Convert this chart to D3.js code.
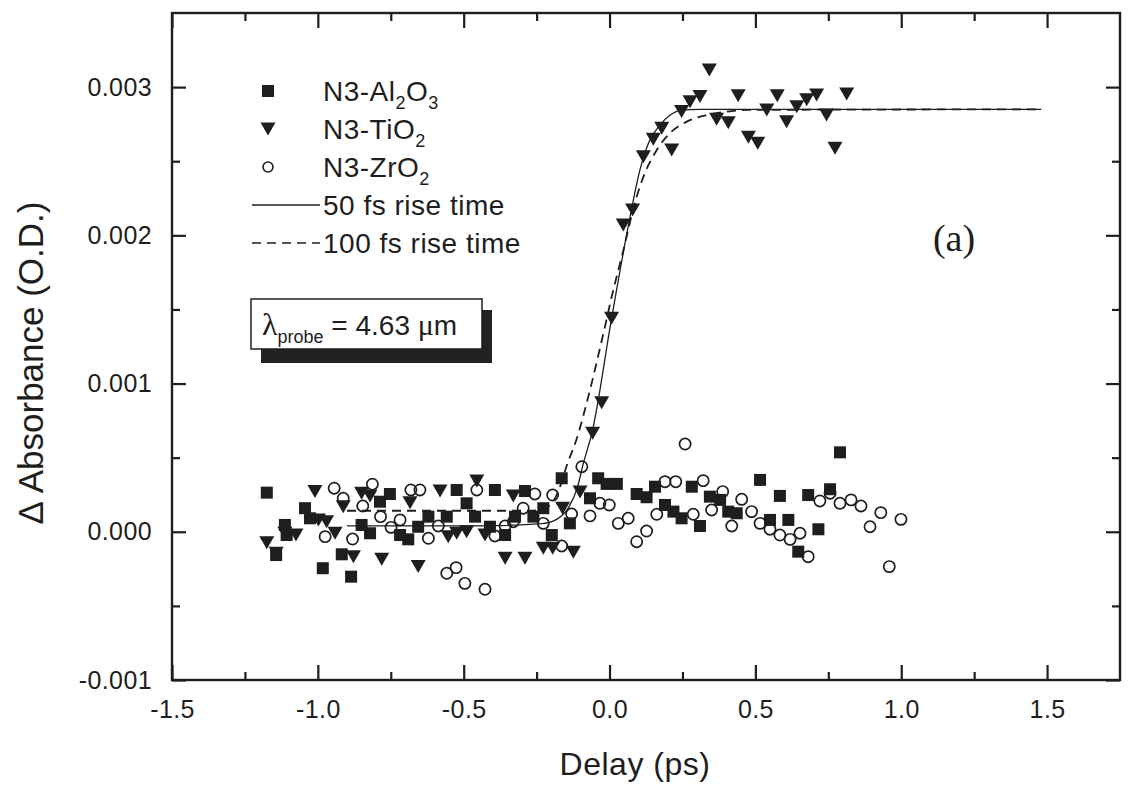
<!DOCTYPE html>
<html><head><meta charset="utf-8">
<script src="https://cdn.jsdelivr.net/npm/d3@7"></script>
<style>body{margin:0;background:#fff}svg{display:block}</style>
</head><body><svg id="c" width="1128" height="790"></svg>
<script>
// ---------- data ----------
const xTicks = [-1.5, -1.0, -0.5, 0.0, 0.5, 1.0, 1.5];
const xTickLabels = ["-1.5", "-1.0", "-0.5", "0.0", "0.5", "1.0", "1.5"];
const xMinorTicks = [-1.25, -0.75, -0.25, 0.25, 0.75, 1.25];
const yTicks = [-0.001, 0.000, 0.001, 0.002, 0.003];
const yTickLabels = ["-0.001", "0.000", "0.001", "0.002", "0.003"];
const yMinorTicks = [-0.0005, 0.0005, 0.0015, 0.0025];

const seriesNames = ["N3-Al2O3", "N3-TiO2", "N3-ZrO2"];
const fitNames = ["50 fs rise time", "100 fs rise time"];

// N3-Al2O3 (filled squares): [delay ps, dA]
const al2o3 = [
  [-1.175,0.264e-3],[-1.143,-0.157e-3],[-1.113,0.046e-3],[-1.107,-0.022e-3],[-1.044,0.159e-3],
  [-1.027,0.091e-3],[-0.983,-0.246e-3],[-0.918,-0.152e-3],[-0.886,-0.303e-3],[-0.850,0.046e-3],
  [-0.821,-0.010e-3],[-0.787,0.203e-3],[-0.753,0.255e-3],[-0.718,-0.022e-3],[-0.690,-0.051e-3],
  [-0.656,0.034e-3],[-0.621,0.102e-3],[-0.558,0.102e-3],[-0.524,0.282e-3],[-0.490,0.192e-3],
  [-0.461,0.102e-3],[-0.410,0.034e-3],[-0.393,0.282e-3],[-0.358,-0.022e-3],[-0.324,0.102e-3],
  [-0.290,0.275e-3],[-0.261,0.102e-3],[-0.227,0.159e-3],[-0.198,-0.022e-3],[-0.164,0.361e-3],
  [-0.136,0.057e-3],[-0.067,0.226e-3],[-0.039,0.361e-3],[-0.010,0.323e-3],[0.025,0.323e-3],
  [0.093,0.255e-3],[0.127,0.233e-3],[0.156,0.304e-3],[0.190,0.181e-3],[0.219,0.136e-3],
  [0.247,0.091e-3],[0.282,0.304e-3],[0.310,0.039e-3],[0.344,0.237e-3],[0.379,0.215e-3],
  [0.407,0.136e-3],[0.436,0.125e-3],[0.516,0.350e-3],[0.550,0.080e-3],[0.584,0.242e-3],
  [0.613,0.080e-3],[0.647,-0.134e-3],[0.681,0.248e-3],[0.716,0.017e-3],[0.756,0.287e-3],
  [0.790,0.536e-3]
];

// N3-TiO2 (filled down triangles)
const tio2 = [
  [-1.175,-0.074e-3],[-1.143,-0.145e-3],[-1.113,-0.010e-3],[-1.075,-0.022e-3],[-1.010,0.271e-3],
  [-0.998,0.080e-3],[-0.970,0.068e-3],[-0.941,-0.010e-3],[-0.913,0.169e-3],[-0.878,-0.168e-3],
  [-0.850,0.260e-3],[-0.821,0.242e-3],[-0.781,-0.186e-3],[-0.684,0.196e-3],[-0.656,-0.235e-3],
  [-0.581,0.275e-3],[-0.553,-0.033e-3],[-0.524,-0.010e-3],[-0.490,0.001e-3],[-0.455,0.343e-3],
  [-0.427,-0.022e-3],[-0.358,-0.179e-3],[-0.330,0.242e-3],[-0.290,-0.179e-3],[-0.227,-0.111e-3],
  [-0.195,-0.111e-3],[-0.161,0.159e-3],[-0.124,-0.138e-3],[-0.101,0.269e-3],[-0.058,0.665e-3],
  [-0.027,0.871e-3],[0.007,1.441e-3],[0.047,2.070e-3],[0.079,2.171e-3],[0.116,2.531e-3],
  [0.150,2.648e-3],[0.179,2.723e-3],[0.213,2.576e-3],[0.247,2.835e-3],[0.276,2.902e-3],
  [0.310,2.936e-3],[0.342,3.116e-3],[0.367,2.783e-3],[0.407,2.760e-3],[0.441,2.941e-3],
  [0.476,2.662e-3],[0.508,2.621e-3],[0.539,2.846e-3],[0.575,2.941e-3],[0.607,2.767e-3],
  [0.642,2.868e-3],[0.676,2.914e-3],[0.710,2.947e-3],[0.744,2.812e-3],[0.773,2.588e-3],
  [0.813,2.954e-3]
];

// N3-ZrO2 (open circles)
const zro2 = [
  [-0.975,-0.033e-3],[-0.944,0.294e-3],[-0.913,0.226e-3],[-0.881,-0.049e-3],[-0.846,0.174e-3],
  [-0.813,0.321e-3],[-0.785,0.102e-3],[-0.749,0.030e-3],[-0.718,0.080e-3],[-0.681,0.282e-3],
  [-0.650,0.282e-3],[-0.621,-0.044e-3],[-0.587,0.039e-3],[-0.558,-0.280e-3],[-0.526,-0.242e-3],
  [-0.496,-0.348e-3],[-0.455,0.282e-3],[-0.427,-0.388e-3],[-0.393,-0.028e-3],[-0.358,0.039e-3],
  [-0.330,0.068e-3],[-0.296,0.159e-3],[-0.256,0.255e-3],[-0.227,0.057e-3],[-0.195,0.248e-3],
  [-0.164,-0.096e-3],[-0.130,0.120e-3],[-0.095,0.439e-3],[-0.067,0.107e-3],[-0.033,0.192e-3],
  [-0.001,0.181e-3],[0.030,0.057e-3],[0.064,0.091e-3],[0.093,-0.067e-3],[0.127,0.005e-3],
  [0.162,0.118e-3],[0.190,0.338e-3],[0.227,0.338e-3],[0.259,0.592e-3],[0.287,0.118e-3],
  [0.321,0.345e-3],[0.350,0.147e-3],[0.388,0.271e-3],[0.419,0.039e-3],[0.453,0.219e-3],
  [0.487,0.136e-3],[0.516,0.057e-3],[0.550,0.017e-3],[0.584,-0.022e-3],[0.619,-0.051e-3],
  [0.653,-0.010e-3],[0.681,-0.168e-3],[0.721,0.208e-3],[0.756,0.260e-3],[0.790,0.192e-3],
  [0.828,0.215e-3],[0.862,0.174e-3],[0.893,0.034e-3],[0.930,0.129e-3],[0.959,-0.235e-3],
  [0.999,0.084e-3]
];

// fit curves
const fit50 = [
  [-0.90,0.040e-3],[-0.44,0.040e-3],[-0.23,0.055e-3],[-0.18,0.085e-3],[-0.14,0.165e-3],
  [-0.11,0.300e-3],[-0.09,0.460e-3],[-0.06,0.670e-3],[0.007,1.440e-3],[0.064,2.060e-3],
  [0.104,2.440e-3],[0.133,2.620e-3],[0.173,2.745e-3],[0.207,2.810e-3],[0.247,2.845e-3],
  [0.310,2.850e-3],[1.48,2.850e-3]
];
const fit100 = [
  [-0.90,0.142e-3],[-0.27,0.142e-3],[-0.22,0.160e-3],[-0.198,0.192e-3],[-0.170,0.302e-3],
  [-0.146,0.451e-3],[-0.115,0.613e-3],[-0.067,0.957e-3],[-0.021,1.339e-3],[0.013,1.632e-3],
  [0.042,1.856e-3],[0.093,2.261e-3],[0.121,2.419e-3],[0.162,2.576e-3],[0.207,2.689e-3],
  [0.265,2.767e-3],[0.321,2.806e-3],[0.402,2.835e-3],[0.470,2.846e-3],[1.48,2.850e-3]
];

// ---------- drawing ----------
const ink = "#1e1e1e";
const sans = "'Liberation Sans', Arial, Helvetica, sans-serif";
const serif = "'Liberation Serif', 'Times New Roman', serif";
const svg = d3.select("#c");
svg.append("rect").attr("width",1128).attr("height",790).attr("fill","#fff");

const L = 172, R = 1120, T = 13, B = 680;
const x = d3.scaleLinear().domain([-1.5, 1.75]).range([L, R]);
const y = d3.scaleLinear().domain([-0.001, 0.0035]).range([B, T]);

function styleAxis(g){
  g.select(".domain").remove();
  g.selectAll(".tick line").attr("stroke", ink).attr("stroke-width", 2.2);
  g.selectAll("text").attr("fill", ink).attr("font-family", sans).attr("font-size", 25)
    .attr("letter-spacing", 0.4);
}
// bottom
svg.append("g").attr("transform",`translate(0,${B})`)
  .call(d3.axisBottom(x).tickValues(xTicks).tickFormat((d,i)=>xTickLabels[i]).tickSizeInner(-15).tickSizeOuter(0).tickPadding(20))
  .call(styleAxis);
svg.append("g").attr("transform",`translate(0,${B})`)
  .call(d3.axisBottom(x).tickValues(xMinorTicks).tickFormat("").tickSizeInner(-8).tickSizeOuter(0))
  .call(styleAxis);
// top
svg.append("g").attr("transform",`translate(0,${T})`)
  .call(d3.axisTop(x).tickValues(xTicks).tickFormat("").tickSizeInner(-15).tickSizeOuter(0))
  .call(styleAxis);
svg.append("g").attr("transform",`translate(0,${T})`)
  .call(d3.axisTop(x).tickValues(xMinorTicks).tickFormat("").tickSizeInner(-8).tickSizeOuter(0))
  .call(styleAxis);
// left
svg.append("g").attr("transform",`translate(${L},0)`)
  .call(d3.axisLeft(y).tickValues(yTicks).tickFormat((d,i)=>yTickLabels[i]).tickSizeInner(-14).tickSizeOuter(0).tickPadding(20))
  .call(styleAxis);
svg.append("g").attr("transform",`translate(${L},0)`)
  .call(d3.axisLeft(y).tickValues(yMinorTicks).tickFormat("").tickSizeInner(-8).tickSizeOuter(0))
  .call(styleAxis);
// right
svg.append("g").attr("transform",`translate(${R},0)`)
  .call(d3.axisRight(y).tickValues(yTicks).tickFormat("").tickSizeInner(-14).tickSizeOuter(0))
  .call(styleAxis);
svg.append("g").attr("transform",`translate(${R},0)`)
  .call(d3.axisRight(y).tickValues(yMinorTicks).tickFormat("").tickSizeInner(-8).tickSizeOuter(0))
  .call(styleAxis);
// frame
svg.append("rect").attr("x",L).attr("y",T).attr("width",R-L).attr("height",B-T)
  .attr("fill","none").attr("stroke",ink).attr("stroke-width",2.4);

// axis titles
svg.append("text").attr("x",635).attr("y",775).attr("text-anchor","middle")
  .attr("font-family",sans).attr("font-size",32).attr("letter-spacing",0.5).attr("fill",ink).text("Delay (ps)");
svg.append("text").attr("transform","translate(43,363) rotate(-90)").attr("text-anchor","middle")
  .attr("font-family",sans).attr("font-size",35).attr("fill",ink).text("\u0394 Absorbance (O.D.)");

// fit lines
const line = d3.line().x(d=>x(d[0])).y(d=>y(d[1])).curve(d3.curveMonotoneX);
svg.append("path").datum(fit100).attr("d",line).attr("fill","none").attr("stroke",ink)
  .attr("stroke-width",1.8).attr("stroke-dasharray","9,6");
svg.append("path").datum(fit50).attr("d",line).attr("fill","none").attr("stroke",ink)
  .attr("stroke-width",1.3);

// markers
const triPath = "M-7.5,-6.5L7.5,-6.5L0,6.5Z";
svg.append("g").selectAll("rect").data(al2o3).join("rect")
  .attr("x",d=>x(d[0])-6).attr("y",d=>y(d[1])-6).attr("width",12).attr("height",12).attr("fill",ink);
svg.append("g").selectAll("path").data(tio2).join("path")
  .attr("transform",d=>`translate(${x(d[0])},${y(d[1])})`).attr("d",triPath).attr("fill",ink);
svg.append("g").selectAll("circle").data(zro2).join("circle")
  .attr("cx",d=>x(d[0])).attr("cy",d=>y(d[1])).attr("r",5.6)
  .attr("fill","none").attr("stroke",ink).attr("stroke-width",1.7);

// legend
const lg = svg.append("g").attr("font-family",sans).attr("font-size",28).attr("letter-spacing",0.5).attr("fill",ink);
const symX = 268, txtX = 323;
const rows = [91,129,167,205,243];
lg.append("rect").attr("x",symX-6).attr("y",rows[0]-6).attr("width",12).attr("height",12).attr("fill",ink);
lg.append("path").attr("transform",`translate(${symX},${rows[1]})`).attr("d",triPath).attr("fill",ink);
lg.append("circle").attr("cx",symX).attr("cy",rows[2]).attr("r",5).attr("fill","none").attr("stroke",ink).attr("stroke-width",1.6);
lg.append("line").attr("x1",252).attr("x2",320).attr("y1",rows[3]).attr("y2",rows[3]).attr("stroke",ink).attr("stroke-width",1.4);
lg.append("line").attr("x1",252).attr("x2",320).attr("y1",rows[4]).attr("y2",rows[4]).attr("stroke",ink).attr("stroke-width",1.6).attr("stroke-dasharray","9,6");

function chem(parts, yy){
  const tx = lg.append("text").attr("x",txtX).attr("y",yy+10);
  parts.forEach(p=>{
    if (p.sub) tx.append("tspan").attr("dy",8).attr("font-size",18).text(p.s);
    else tx.append("tspan").attr("dy",p.back?-8:0).text(p.s);
  });
}
chem([{s:"N3-Al"},{s:"2",sub:1},{s:"O",back:1},{s:"3",sub:1}], rows[0]);
chem([{s:"N3-TiO"},{s:"2",sub:1}], rows[1]);
chem([{s:"N3-ZrO"},{s:"2",sub:1}], rows[2]);
lg.append("text").attr("x",txtX).attr("y",rows[3]+10).text(fitNames[0]);
lg.append("text").attr("x",txtX).attr("y",rows[4]+10).text(fitNames[1]);

// lambda box
svg.append("rect").attr("x",261).attr("y",310).attr("width",231).attr("height",53).attr("fill","#222");
svg.append("rect").attr("x",251).attr("y",299).attr("width",231).attr("height",50)
  .attr("fill","#fff").attr("stroke",ink).attr("stroke-width",1.5);
const lt = svg.append("text").attr("x",262).attr("y",335).attr("fill",ink).attr("font-family",sans).attr("font-size",28);
lt.append("tspan").attr("font-family",serif).attr("font-size",32).text("\u03bb");
lt.append("tspan").attr("dy",8).attr("font-size",18).text("probe");
lt.append("tspan").attr("dy",-8).text(" = 4.63 ");
lt.append("tspan").attr("font-family",serif).attr("font-size",30).text("\u03bc");
lt.append("tspan").text("m");

// panel label
svg.append("text").attr("x",954).attr("y",251).attr("text-anchor","middle")
  .attr("font-family",serif).attr("font-size",38).attr("fill",ink).text("(a)");
</script>
</body></html>
